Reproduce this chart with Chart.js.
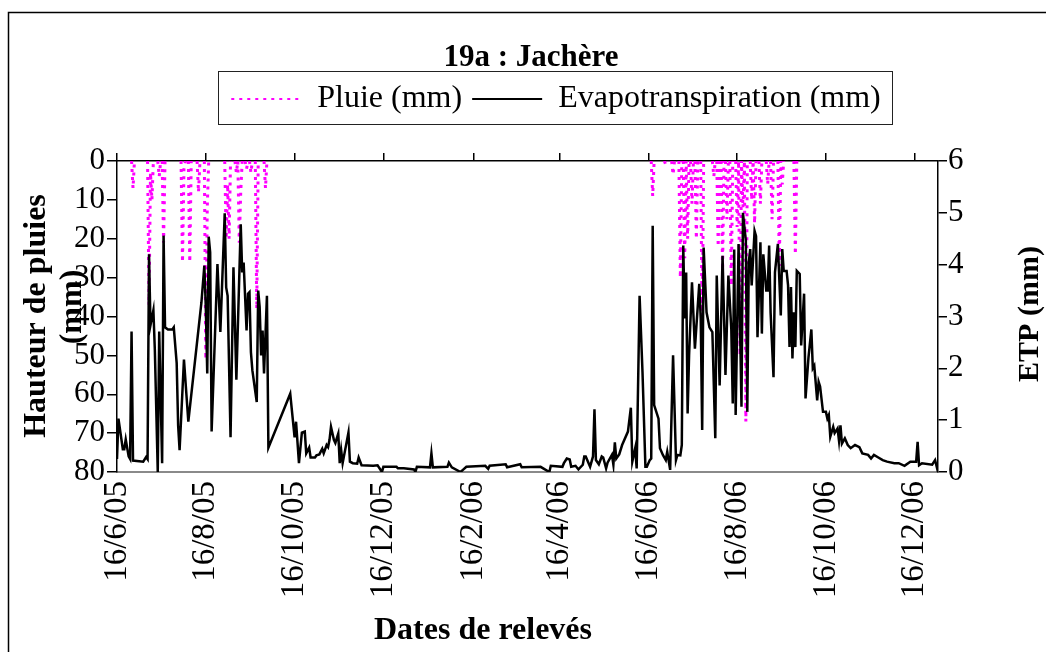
<!DOCTYPE html>
<html lang="fr">
<head>
<meta charset="utf-8">
<title>19a : Jachère</title>
<script src="https://cdn.jsdelivr.net/npm/chart.js@4.4.1/dist/chart.umd.min.js"></script>
<style>
  html, body { margin: 0; padding: 0; background: #fff; }
  canvas { display: block; }
</style>
</head>
<body>
<canvas id="graphique" width="1046" height="652"></canvas>
<script>
// Axe des dates : jours comptés depuis le 16/6/05
const joursTicks = [0, 61, 122, 183, 245, 304, 365, 426, 487, 548];
const etiquettesDates = ['16/6/05', '16/8/05', '16/10/05', '16/12/05', '16/2/06',
                         '16/4/06', '16/6/06', '16/8/06', '16/10/06', '16/12/06'];
const jourMax = 564;

// Pluie (mm) - axe gauche inversé
const pluieJour = [10, 11, 12, 21, 22, 23, 24, 25, 28, 29, 30, 31, 32, 33,
                   44, 45, 46, 47, 49, 50, 51, 55, 56, 57, 60, 61, 62, 63,
                   74, 75, 76, 77, 78, 81, 82, 83, 84, 85, 86, 88, 89, 90,
                   91, 92, 93, 95, 96, 97, 101, 102, 103,
                   367, 368, 369, 376, 377, 378, 381, 382, 383, 386, 387, 388,
                   389, 390, 391, 392, 393, 394, 395, 396, 397, 398, 399, 401,
                   402, 403, 409, 410, 411, 412, 413, 414, 415, 416, 417, 418,
                   419, 420, 421, 422, 423, 425, 426, 427, 428, 429, 430, 431,
                   432, 433, 435, 436, 437, 438, 439, 441, 442, 443, 446, 447,
                   448, 449, 450, 451, 454, 455, 456, 457, 458, 465, 466, 467];
const pluieMm =   [0, 7, 0, 0, 37, 3, 10, 0, 0, 4, 0, 0, 21, 0,
                   0, 26, 2, 0, 0, 26, 0, 0, 8, 0, 0, 51, 12, 0,
                   0, 20, 6, 20, 0, 0, 3, 0, 21, 8, 0, 0, 2, 0,
                   0, 3, 0, 0, 38, 0, 0, 7, 0,
                   0, 9, 0, 0, 1, 0, 0, 3.5, 0, 0, 30, 0,
                   0, 25, 0, 20, 0, 0, 11, 0, 0, 20, 0, 0,
                   45, 0, 0, 4, 0, 0, 22, 0, 0, 28, 0, 0,
                   15, 0, 0, 32, 0, 0, 17, 0, 50, 0, 12, 0,
                   67, 0, 0, 10, 0, 16, 0, 0, 11, 0, 0, 6,
                   0, 0, 15, 0, 0, 27, 0, 6, 0, 0, 24, 0];

// Evapotranspiration (mm) - axe droit
const etpJour = [0, 1, 4, 5, 6, 8, 9, 10, 11, 18, 20, 21, 22, 23, 25, 26, 28, 29, 31, 32,
                 33, 35, 38, 39, 41, 42, 43, 46, 49, 58, 60, 61, 62, 63, 64, 65, 69, 71, 74, 75,
                 76, 78, 80, 82, 85, 86, 87, 89, 90, 91, 92, 93, 96, 97, 98, 99, 100, 101, 103, 104,
                 119, 122, 123, 125, 127, 129, 130, 132, 133, 136, 137, 139, 141, 142, 144, 145, 146, 147, 149, 150,
                 152, 153, 154, 155, 159, 160, 162, 165, 166, 168, 176, 179, 182, 183, 192, 193, 197, 204, 205, 206,
                 215, 216, 217, 227, 228, 230, 236, 238, 240, 253, 255, 256, 267, 268, 277, 278, 291, 297, 298, 306,
                 307, 309, 311, 312, 315, 317, 320, 321, 322, 325, 327, 328, 329, 331, 333, 334, 336, 337, 340, 341,
                 342, 343, 345, 347, 351, 353, 354, 356, 357, 359, 361, 363, 364, 366, 367, 368, 369, 372, 373, 375,
                 377, 378, 380, 382, 384, 385, 387, 388, 389, 390, 391, 392, 393, 395, 397, 400, 401, 402, 403, 405,
                 407, 409, 411, 412, 414, 416, 418, 420, 422, 423, 424, 425, 427, 429, 430, 432, 433, 434, 435, 436,
                 438, 439, 440, 442, 443, 444, 446, 447, 448, 449, 451, 452, 454, 456, 457, 458, 460, 461, 462, 463,
                 464, 465, 466, 467, 469, 470, 472, 473, 475, 477, 478, 479, 481, 482, 483, 485, 487, 488, 489, 490,
                 492, 493, 495, 496, 497, 498, 500, 502, 504, 507, 510, 512, 516, 518, 520, 523, 526, 529, 534, 537,
                 541, 545, 549, 550, 551, 553, 560, 562, 564];
const etpMm =   [0.25, 1.03, 0.44, 0.44, 0.63, 0.3, 0.25, 2.71, 0.22, 0.2, 0.29, 0.25, 4.2, 2.83, 3.12, 2.35, 0.0, 2.71, 0.17, 4.56,
                 2.79, 2.75, 2.75, 2.79, 2.1, 0.9, 0.42, 2.17, 0.97, 3.27, 3.98, 3.18, 1.9, 4.54, 4.24, 0.78, 4.01, 2.7, 4.99, 3.56,
                 3.4, 0.67, 3.95, 1.78, 4.78, 3.85, 4.04, 2.73, 3.44, 3.47, 2.31, 1.96, 1.35, 3.5, 3.18, 2.25, 2.73, 1.9, 3.4, 0.47,
                 1.51, 0.67, 0.97, 0.17, 0.76, 0.78, 0.36, 0.47, 0.28, 0.28, 0.32, 0.34, 0.45, 0.36, 0.52, 0.48, 0.62, 0.87, 0.62, 0.56,
                 0.74, 0.17, 0.42, 0.17, 0.76, 0.2, 0.17, 0.16, 0.28, 0.13, 0.12, 0.13, 0.0, 0.1, 0.1, 0.07, 0.07, 0.05, 0.0, 0.1,
                 0.09, 0.36, 0.09, 0.1, 0.18, 0.09, 0.0, 0.05, 0.1, 0.12, 0.06, 0.12, 0.15, 0.09, 0.15, 0.09, 0.1, 0.0, 0.12, 0.1,
                 0.17, 0.26, 0.24, 0.1, 0.12, 0.05, 0.14, 0.3, 0.3, 0.1, 0.3, 1.21, 0.23, 0.15, 0.3, 0.28, 0.07, 0.18, 0.33, 0.14,
                 0.57, 0.26, 0.34, 0.52, 0.78, 1.24, 0.2, 0.46, 0.07, 3.4, 1.93, 0.1, 0.1, 0.23, 0.26, 4.75, 1.29, 1.03, 0.46, 0.33,
                 0.23, 0.39, 0.04, 2.25, 0.23, 0.33, 0.32, 0.52, 4.37, 2.96, 3.85, 1.13, 2.25, 3.66, 2.38, 3.63, 2.96, 0.81, 4.33, 3.08,
                 2.79, 2.7, 0.65, 3.79, 1.67, 4.17, 1.87, 3.79, 2.76, 1.32, 4.29, 1.1, 4.4, 1.26, 5.0, 4.46, 1.16, 4.04, 4.3, 3.6,
                 4.65, 4.55, 2.6, 4.43, 2.67, 4.2, 3.5, 3.5, 4.37, 3.08, 1.83, 3.85, 4.4, 3.02, 4.3, 3.88, 3.88, 3.6, 2.41, 3.57,
                 2.19, 3.08, 2.41, 3.88, 3.82, 2.44, 3.44, 1.42, 2.2, 2.75, 2.0, 2.05, 1.38, 1.74, 1.65, 1.16, 1.16, 1.03, 1.1, 0.68,
                 0.87, 0.75, 0.84, 0.6, 0.9, 0.55, 0.65, 0.52, 0.46, 0.52, 0.48, 0.36, 0.33, 0.26, 0.33, 0.28, 0.23, 0.2, 0.17, 0.17,
                 0.12, 0.2, 0.2, 0.58, 0.13, 0.17, 0.14, 0.23, 0.0];

const police = 'Liberation Serif, Times New Roman, serif';

function ticksDates(scale) {
  scale.ticks = joursTicks.map(v => ({ value: v }));
}

// Cadre du graphique, cadre de la légende et titres des axes
const habillage = {
  id: 'habillage',
  afterLayout(chart) {
    // décalage du titre et de la légende comme sur l'original
    chart.titleBlock.left += 8;
    chart.titleBlock.right += 8;
    chart.legend.left += 33;
    chart.legend.right += 33;
  },
  beforeDraw(chart) {
    const ctx = chart.ctx;
    ctx.save();
    ctx.fillStyle = '#fff';
    ctx.fillRect(0, 0, chart.width, chart.height);
    ctx.strokeStyle = '#000';
    ctx.lineWidth = 1.5;
    ctx.strokeRect(8.5, 12.5, 1200, 800);
    ctx.restore();
  },
  afterDraw(chart) {
    const ctx = chart.ctx;
    const lg = chart.legend;
    const boites = lg.legendHitBoxes;
    ctx.save();
    // cadre de la légende
    const g = boites[0].left - 13;
    const d = boites[boites.length - 1].left + boites[boites.length - 1].width + 12;
    ctx.strokeStyle = '#222';
    ctx.lineWidth = 1;
    ctx.strokeRect(Math.round(g) + 0.5, lg.top - 1.5, Math.round(d - g), 53);

    ctx.fillStyle = '#000';
    ctx.textAlign = 'center';
    ctx.textBaseline = 'middle';
    ctx.font = 'bold 32px ' + police;
    ctx.fillText('Dates de relevés', 483, 631);

    ctx.save();
    ctx.translate(37, 316);
    ctx.rotate(-Math.PI / 2);
    ctx.fillText('Hauteur de pluies', 0, 0);
    ctx.restore();

    ctx.save();
    ctx.translate(73, 307);
    ctx.rotate(-Math.PI / 2);
    ctx.fillText('(mm)', 0, 0);
    ctx.restore();

    ctx.save();
    ctx.translate(1030, 314);
    ctx.rotate(-Math.PI / 2);
    ctx.font = 'bold 30px ' + police;
    ctx.fillText('ETP (mm)', 0, 0);
    ctx.restore();

    ctx.restore();
  }
};

const ctx = document.getElementById('graphique').getContext('2d');

const graphique = new Chart(ctx, {
  type: 'line',
  data: {
    datasets: [
      {
        label: 'Pluie (mm)',
        data: pluieJour.map((j, i) => ({ x: j, y: pluieMm[i] })),
        yAxisID: 'y',
        borderColor: '#ff00ff',
        borderWidth: 3,
        borderDash: [3, 5],
        pointRadius: 0,
        fill: false,
        tension: 0,
        order: 1,
        segment: {
          // pas de trait le long de l'axe quand il ne pleut pas
          borderColor: c => (c.p0.parsed.y === 0 && c.p1.parsed.y === 0) ? 'rgba(0,0,0,0)' : undefined
        }
      },
      {
        label: 'Evapotranspiration (mm)',
        data: etpJour.map((j, i) => ({ x: j, y: etpMm[i] })),
        yAxisID: 'y2',
        borderColor: '#000',
        borderWidth: 2.5,
        pointRadius: 0,
        fill: false,
        tension: 0,
        order: 0
      }
    ]
  },
  options: {
    responsive: false,
    animation: false,
    devicePixelRatio: 1,
    layout: { padding: 0 },
    scales: {
      x: {
        type: 'linear',
        position: 'bottom',
        min: 0,
        max: jourMax,
        afterBuildTicks: ticksDates,
        afterFit: s => { s.height = 180; },
        grid: { drawOnChartArea: false, drawTicks: false },
        border: { color: '#8a8a8a', width: 2 },
        ticks: {
          autoSkip: false,
          minRotation: 90,
          maxRotation: 90,
          padding: 9,
          color: '#000',
          font: { family: police, size: 33 },
          callback: v => etiquettesDates[joursTicks.indexOf(v)]
        }
      },
      xHaut: {
        type: 'linear',
        position: 'top',
        min: 0,
        max: jourMax,
        afterBuildTicks: ticksDates,
        afterFit: s => { s.height = 36; },
        grid: { drawOnChartArea: false, drawTicks: true, tickLength: 8, color: '#000', lineWidth: 1.5 },
        border: { color: '#000', width: 1.5 },
        ticks: { display: false }
      },
      y: {
        type: 'linear',
        position: 'left',
        reverse: true,
        min: 0,
        max: 80,
        afterFit: s => { s.width = 117; },
        grid: { drawOnChartArea: false, tickLength: 10, color: '#000', lineWidth: 1.5 },
        border: { color: '#000', width: 1.5 },
        ticks: { stepSize: 10, autoSkip: false, padding: 2, color: '#000', font: { family: police, size: 31 } }
      },
      y2: {
        type: 'linear',
        position: 'right',
        min: 0,
        max: 6,
        afterFit: s => { s.width = 108; },
        grid: { drawOnChartArea: false, tickLength: 9, color: '#000', lineWidth: 1.5 },
        border: { color: '#000', width: 1.5 },
        ticks: { stepSize: 1, autoSkip: false, padding: 1, color: '#000', font: { family: police, size: 31 } }
      }
    },
    plugins: {
      title: {
        display: true,
        text: '19a : Jachère',
        color: '#000',
        font: { family: police, size: 31, weight: 'bold', lineHeight: 1 },
        padding: { top: 42, bottom: 0 }
      },
      legend: {
        display: true,
        position: 'top',
        labels: {
          color: '#000',
          font: { family: police, size: 32 },
          usePointStyle: true,
          pointStyle: 'line',
          pointStyleWidth: 70,
          padding: 10,
          sort: (a, b) => a.datasetIndex - b.datasetIndex,
          // échantillons : pointillés magenta pour la pluie, trait noir pour l'ETP
          generateLabels: chart => Chart.defaults.plugins.legend.labels.generateLabels(chart).map(item => {
            const ds = chart.data.datasets[item.datasetIndex];
            item.lineDash = ds.borderDash || [];
            item.lineWidth = 2;
            item.strokeStyle = ds.borderColor;
            return item;
          })
        }
      },
      tooltip: { enabled: false }
    }
  },
  plugins: [habillage]
});
</script>
</body>
</html>
